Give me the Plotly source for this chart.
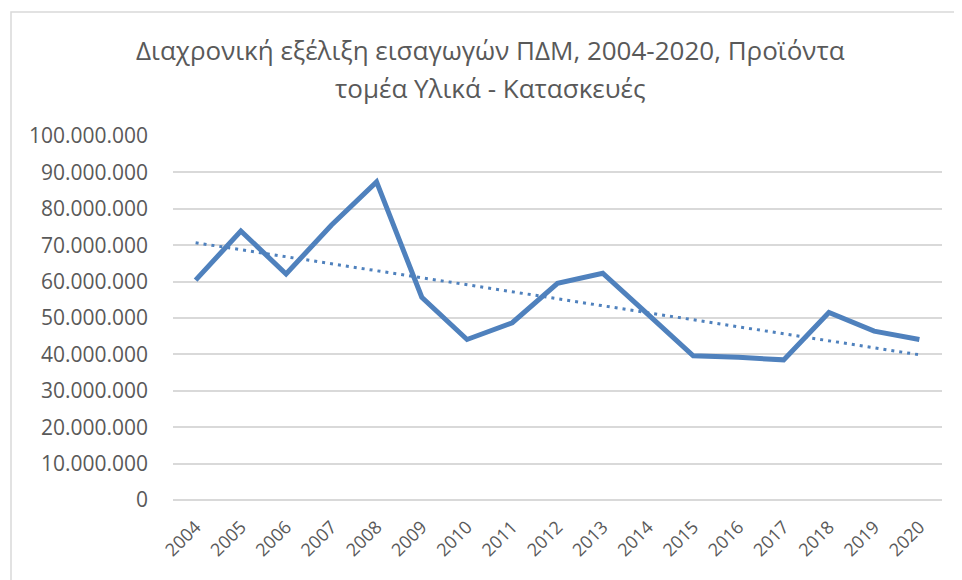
import numpy as np
import plotly.graph_objects as go

# Data
years = [str(y) for y in range(2004, 2021)]
imports = [
    60.4e6, 73.9e6, 62.1e6, 75.5e6, 87.4e6, 55.7e6, 44.1e6, 48.7e6, 59.5e6,
    62.3e6, 51.0e6, 39.6e6, 39.2e6, 38.5e6, 51.5e6, 46.4e6, 44.1e6,
]
y_ticks = list(range(0, 100_000_001, 10_000_000))
title_lines = ["Διαχρονική εξέλιξη εισαγωγών ΠΔΜ, 2004-2020, Προϊόντα",
               "τομέα Υλικά - Κατασκευές"]

# linear trend line, like Excel's
idx = np.arange(len(years))
slope, intercept = np.polyfit(idx, imports, 1)
trend = slope * idx + intercept

blue = "#4F81BD"
grey_text = "#595959"
font_family = "'Open Sans', 'Noto Sans', sans-serif"

fig = go.Figure()
fig.add_trace(go.Scatter(
    x=years, y=imports, mode="lines",
    line=dict(color=blue, width=5),
    showlegend=False,
))
fig.add_trace(go.Scatter(
    x=years, y=trend, mode="lines",
    line=dict(color=blue, width=3, dash="3px,5px"),
    showlegend=False,
))

# title as two lines, placed by hand to get Excel's line spacing
for i, line in enumerate(title_lines):
    fig.add_annotation(
        text=line, xref="paper", yref="paper",
        x=(482 - 165) / 769, y=(492 - 42 - 38 * i) / 364,
        xanchor="center", yanchor="middle", showarrow=False,
        font=dict(size=26, color=grey_text, family=font_family),
    )

# page body has an 8px margin, so offsets are shifted by 8px
fig.update_layout(
    width=962, height=580,
    margin=dict(l=165, r=28, t=128, b=88),
    paper_bgcolor="white", plot_bgcolor="white",
    separators=",.",
    font=dict(family=font_family, color=grey_text),
    xaxis=dict(
        type="category", range=[-0.5, len(years) - 0.5],
        tickangle=-45, tickfont=dict(size=18, color=grey_text),
        showgrid=False, showline=False, ticks="", ticklabelstandoff=12,
    ),
    yaxis=dict(
        range=[0, 100_000_000], tickvals=y_ticks, tickformat=",d",
        tickfont=dict(size=21, color=grey_text),
        showgrid=True, gridcolor="#D9D9D9", gridwidth=1.5,
        zeroline=True, zerolinecolor="#D9D9D9", zerolinewidth=1.5,
        showline=False, ticks="", ticklabelstandoff=24,
    ),
    shapes=[dict(
        type="rect", xref="paper", yref="paper",
        x0=(3 - 165) / 769, x1=1.2, y0=-0.3, y1=(492 - 4) / 364,
        line=dict(color="#D9D9D9", width=1.5), fillcolor="rgba(0,0,0,0)",
        layer="below",
    )],
)

fig.write_html("out.html")
